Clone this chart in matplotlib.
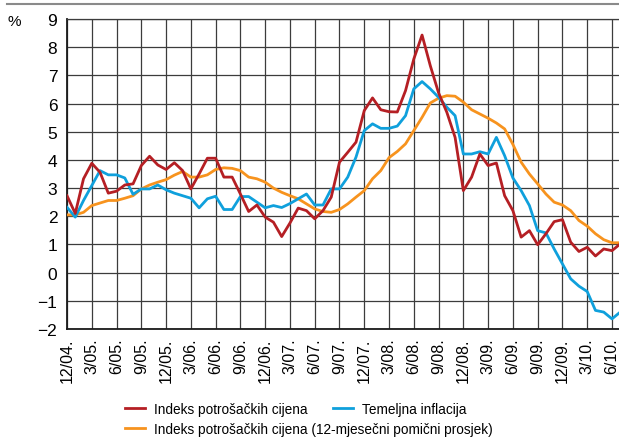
import matplotlib
matplotlib.use('Agg')
import matplotlib.pyplot as plt
from matplotlib.lines import Line2D

plt.rcParams['font.family'] = ['Liberation Sans', 'DejaVu Sans']

# months 12/2004 .. 7/2010
tick_labels = ['12/04.', '3/05.', '6/05.', '9/05.', '12/05.', '3/06.', '6/06.', '9/06.',
               '12/06.', '3/07.', '6/07.', '9/07.', '12/07.', '3/08.', '6/08.', '9/08.',
               '12/08.', '3/09.', '6/09.', '9/09.', '12/09.', '3/10.', '6/10.']

cpi = [2.73, 2.10, 3.33, 3.88, 3.56, 2.82, 2.89, 3.11, 3.15, 3.80, 4.13, 3.82,
       3.66, 3.90, 3.62, 2.97, 3.50, 4.06, 4.06, 3.39, 3.39, 2.79, 2.17, 2.40,
       1.97, 1.79, 1.28, 1.76, 2.29, 2.20, 1.91, 2.20, 2.68, 3.92, 4.27, 4.63,
       5.75, 6.20, 5.78, 5.71, 5.70, 6.46, 7.58, 8.43, 7.34, 6.38, 5.69, 4.80,
       2.91, 3.39, 4.21, 3.80, 3.89, 2.73, 2.20, 1.26, 1.49, 0.99, 1.38, 1.81,
       1.88, 1.08, 0.75, 0.90, 0.59, 0.84, 0.78, 1.02]

core = [2.32, 1.97, 2.56, 3.09, 3.62, 3.47, 3.47, 3.36, 2.78, 2.97, 2.97, 3.11,
        2.94, 2.82, 2.73, 2.64, 2.30, 2.62, 2.71, 2.24, 2.24, 2.70, 2.70, 2.50,
        2.30, 2.38, 2.31, 2.45, 2.62, 2.79, 2.40, 2.40, 2.97, 2.97, 3.39, 4.10,
        5.04, 5.28, 5.12, 5.12, 5.20, 5.57, 6.52, 6.78, 6.52, 6.22, 5.87, 5.57,
        4.21, 4.21, 4.29, 4.21, 4.80, 4.15, 3.36, 2.91, 2.38, 1.49, 1.41, 0.84,
        0.31, -0.22, -0.48, -0.67, -1.34, -1.40, -1.64, -1.40]

cpi_ma = [2.05, 2.05, 2.14, 2.38, 2.47, 2.56, 2.56, 2.64, 2.73, 2.97, 3.11, 3.21,
          3.30, 3.46, 3.59, 3.39, 3.39, 3.47, 3.66, 3.72, 3.70, 3.62, 3.39, 3.33,
          3.21, 3.00, 2.85, 2.73, 2.62, 2.44, 2.26, 2.17, 2.14, 2.24, 2.44, 2.68,
          2.91, 3.33, 3.62, 4.08, 4.30, 4.57, 5.04, 5.51, 6.02, 6.19, 6.28, 6.26,
          6.05, 5.78, 5.63, 5.48, 5.31, 5.10, 4.55, 3.92, 3.50, 3.15, 2.79, 2.50,
          2.40, 2.20, 1.85, 1.65, 1.38, 1.17, 1.06, 1.06]

RED = '#b51f24'
BLUE = '#0fa0dc'
ORANGE = '#f7931e'
GRID = '#3c3c3c'

W, H = 619, 439
fig = plt.figure(figsize=(W / 100, H / 100), dpi=100)
ax = fig.add_axes([67 / W, 1 - 330 / H, 1 - 67 / W, 310 / H])

x = range(len(cpi))
ax.plot(x, cpi_ma, color=ORANGE, lw=2.0, zorder=3)
ax.plot(x, core, color=BLUE, lw=2.0, zorder=4)
ax.plot(x, cpi, color=RED, lw=2.0, zorder=5)

ax.set_xlim(0, 66.85)
ax.set_ylim(-2, 9)
ax.set_xticks(range(0, 67, 3))
ax.set_xticklabels(tick_labels, rotation=90, fontsize=11.5)
ax.set_yticks(range(-2, 10))
ax.tick_params(axis='y', labelsize=12.5, length=0, pad=7)
ax.tick_params(axis='x', length=0, pad=6)
ax.grid(True, color=GRID, lw=0.9)
ax.set_axisbelow(True)
for s in ['left', 'bottom']:
    ax.spines[s].set_color('#1a1a1a')
    ax.spines[s].set_linewidth(1.3)
ax.spines['top'].set_color(GRID)
ax.spines['top'].set_linewidth(0.9)
ax.spines['right'].set_visible(False)

fig.text(7 / W, 1 - 21.5 / H, '%', fontsize=11, va='center', ha='left')
fig.add_artist(Line2D([7 / W, 1], [1 - 5 / H, 1 - 5 / H], color='#8a8a8a', lw=1.5))

def add_key(xp, yp, color, label):
    h = Line2D([], [], color=color, lw=2.0)
    fig.legend([h], [label], loc='center left', bbox_to_anchor=(xp / W, 1 - yp / H),
               frameon=False, fontsize=9.8, handlelength=1.5, handletextpad=0.6,
               borderpad=0, borderaxespad=0)

add_key(125, 410, RED, 'Indeks potrošačkih cijena')
add_key(333, 410, BLUE, 'Temeljna inflacija')
add_key(125, 430, ORANGE, 'Indeks potrošačkih cijena (12-mjesečni pomični prosjek)')

fig.savefig('out.png', dpi=100)
